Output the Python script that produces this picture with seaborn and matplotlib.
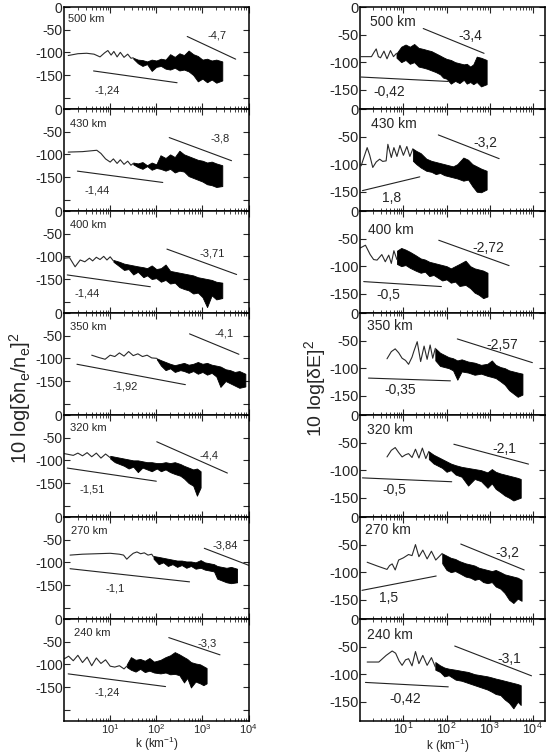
import numpy as np
import matplotlib
matplotlib.use("Agg")
import matplotlib.pyplot as plt
from matplotlib.ticker import LogLocator, FixedLocator, NullFormatter
import seaborn as sns
import pandas as pd

sns.set_style("ticks")
plt.rcParams['font.family'] = ['Liberation Sans', 'DejaVu Sans']
plt.rcParams['mathtext.default'] = 'regular'

ALTITUDES = ['500 km', '430 km', '400 km', '350 km', '320 km', '270 km', '240 km']

# ---------------- left column: 10 log[dn/n]^2 (x = log10 k) ----------------
NE500_LINE_LK = [0.09, 0.3, 0.49, 0.65, 0.78, 0.88, 0.95, 1.02, 1.08, 1.15, 1.22, 1.3, 1.38, 1.45, 1.5]
NE500_LINE_Y = [-107, -103, -102, -104, -110, -101, -96, -106, -98, -110, -100, -111, -104, -113, -112]
NE500_BAND_LK = [1.5, 1.6, 1.7, 1.8, 1.9, 2.0, 2.1, 2.2, 2.3, 2.4, 2.5, 2.6, 2.7, 2.8, 2.9, 3.0, 3.1, 3.2, 3.3, 3.43]
NE500_BAND_HI = [-112, -116, -117, -120, -116, -118, -114, -116, -104, -110, -102, -106, -96, -104, -108, -116, -114, -118, -116, -120]
NE500_BAND_LO = [-114, -124, -130, -126, -141, -132, -130, -136, -138, -134, -140, -138, -142, -150, -164, -158, -166, -160, -167, -162]

NE430_LINE_LK = [0.09, 0.4, 0.71, 0.8, 0.9, 1.0, 1.07, 1.15, 1.22, 1.3, 1.38, 1.45, 1.5]
NE430_LINE_Y = [-95, -94, -91, -98, -110, -117, -110, -120, -112, -122, -115, -124, -120]
NE430_BAND_LK = [1.5, 1.6, 1.7, 1.8, 1.9, 2.0, 2.09, 2.2, 2.3, 2.4, 2.5, 2.6, 2.7, 2.8, 2.9, 3.0, 3.1, 3.2, 3.3, 3.43]
NE430_BAND_HI = [-118, -120, -117, -124, -118, -122, -102, -108, -100, -106, -92, -100, -104, -108, -112, -114, -118, -116, -120, -124]
NE430_BAND_LO = [-122, -128, -132, -126, -134, -130, -132, -136, -132, -140, -136, -138, -148, -152, -156, -160, -166, -168, -172, -170]

NE400_LINE_LK = [0.0, 0.12, 0.24, 0.35, 0.45, 0.55, 0.62, 0.7, 0.78, 0.86, 0.93, 1.0, 1.07]
NE400_LINE_Y = [-104, -103, -123, -108, -112, -104, -110, -102, -107, -100, -108, -101, -110]
NE400_BAND_LK = [1.07, 1.2, 1.3, 1.4, 1.5, 1.6, 1.72, 1.8, 1.9, 2.0, 2.1, 2.2, 2.3, 2.4, 2.5, 2.6, 2.7, 2.8, 2.9, 3.0, 3.1, 3.2, 3.3, 3.43]
NE400_BAND_HI = [-108, -112, -116, -118, -120, -122, -124, -126, -120, -128, -126, -118, -132, -134, -136, -138, -140, -142, -146, -148, -150, -152, -156, -158]
NE400_BAND_LO = [-112, -122, -130, -128, -140, -134, -146, -142, -150, -148, -156, -152, -160, -158, -168, -172, -175, -182, -180, -190, -212, -186, -195, -192]

NE350_LINE_LK = [0.6, 0.75, 0.89, 1.0, 1.1, 1.2, 1.3, 1.4, 1.5, 1.6, 1.7, 1.8, 1.9, 2.01]
NE350_LINE_Y = [-93, -98, -102, -93, -96, -88, -95, -85, -94, -90, -96, -93, -99, -100]
NE350_BAND_LK = [2.01, 2.1, 2.2, 2.3, 2.4, 2.52, 2.6, 2.7, 2.8, 2.9, 3.0, 3.1, 3.2, 3.3, 3.39, 3.5, 3.6, 3.7, 3.8, 3.93]
NE350_BAND_HI = [-100, -104, -108, -112, -115, -112, -110, -114, -112, -108, -112, -110, -114, -116, -118, -124, -126, -130, -128, -134]
NE350_BAND_LO = [-102, -116, -126, -122, -130, -126, -128, -132, -128, -134, -130, -136, -132, -140, -163, -150, -155, -160, -165, -162]

NE320_LINE_LK = [0.0, 0.1, 0.2, 0.3, 0.4, 0.5, 0.6, 0.7, 0.8, 0.9, 1.0]
NE320_LINE_Y = [-85, -87, -89, -84, -90, -83, -92, -84, -95, -86, -94]
NE320_BAND_LK = [1.0, 1.1, 1.2, 1.3, 1.4, 1.5, 1.6, 1.7, 1.8, 1.9, 2.01, 2.1, 2.2, 2.3, 2.4, 2.52, 2.6, 2.7, 2.8, 2.88, 2.96]
NE320_BAND_HI = [-90, -92, -94, -96, -98, -100, -100, -102, -104, -104, -106, -106, -104, -106, -104, -108, -112, -116, -120, -118, -124]
NE320_BAND_LO = [-96, -104, -108, -112, -118, -114, -126, -116, -120, -124, -118, -124, -120, -126, -130, -134, -140, -150, -156, -178, -160]

NE270_LINE_LK = [0.13, 0.4, 0.7, 1.0, 1.2, 1.29, 1.36, 1.43, 1.5, 1.58, 1.66, 1.74, 1.82, 1.9, 1.94]
NE270_LINE_Y = [-84, -82, -81, -80, -82, -84, -93, -86, -80, -77, -81, -79, -84, -82, -88]
NE270_BAND_LK = [1.94, 2.05, 2.15, 2.25, 2.35, 2.45, 2.55, 2.65, 2.75, 2.85, 2.96, 3.05, 3.15, 3.25, 3.32, 3.42, 3.52, 3.62, 3.75]
NE270_BAND_HI = [-86, -88, -90, -92, -94, -96, -96, -98, -98, -100, -95, -100, -102, -104, -108, -110, -112, -110, -114]
NE270_BAND_LO = [-92, -104, -100, -108, -104, -110, -106, -112, -108, -114, -112, -116, -118, -120, -136, -140, -144, -146, -144]

NE240_LINE_LK = [0.0, 0.1, 0.2, 0.3, 0.4, 0.5, 0.6, 0.7, 0.8, 0.9, 1.0, 1.1, 1.2, 1.3, 1.36]
NE240_LINE_Y = [-88, -82, -92, -80, -96, -84, -103, -86, -98, -90, -104, -106, -103, -110, -104]
NE240_BAND_LK = [1.36, 1.45, 1.55, 1.65, 1.75, 1.85, 1.95, 2.09, 2.2, 2.3, 2.4, 2.5, 2.6, 2.67, 2.75, 2.85, 2.95, 3.02, 3.09]
NE240_BAND_HI = [-100, -84, -90, -88, -92, -86, -94, -90, -84, -80, -73, -78, -84, -88, -95, -98, -100, -104, -108]
NE240_BAND_LO = [-106, -112, -116, -110, -117, -114, -118, -120, -118, -122, -121, -124, -140, -130, -151, -138, -142, -146, -142]

NE_LOW_SLOPE = ['-1,24', '-1,44', '-1,44', '-1,92', '-1,51', '-1,1', '-1,24']
NE_HIGH_SLOPE = ['-4,7', '-3,8', '-3,71', '-4,1', '-4,4', '-3,84', '-3,3']
NE_LOW_SEG = [(0.64, -141, 2.45, -167), (0.29, -137, 2.14, -162), (0.07, -141, 1.87, -167),
              (0.28, -113, 2.63, -158), (0.07, -117, 2.0, -146), (0.13, -114, 2.72, -143),
              (0.09, -121, 2.2, -149)]
NE_HIGH_SEG = [(2.67, -65, 3.72, -115), (2.28, -63, 3.63, -114), (2.23, -84, 3.74, -140),
               (2.72, -46, 3.79, -91), (2.01, -59, 3.54, -128), (3.04, -69, 4.04, -108),
               (2.27, -41, 3.38, -79)]
NE_LOW_LABEL = [(0.93, -184), (0.71, -179), (0.49, -182), (1.33, -163), (0.6, -165), (1.1, -158), (0.93, -162)]
NE_HIGH_LABEL = [(3.32, -63), (3.39, -65), (3.21, -93), (3.46, -45), (3.14, -89), (3.5, -62), (3.1, -54)]
NE_ALT_POS = [(0.09, -26), (0.13, -33), (0.13, -30), (0.13, -30), (0.13, -28), (0.15, -30), (0.22, -30)]

# ---------------- right column: 10 log[dE]^2 ----------------
E500_LINE_LK = [0.02, 0.26, 0.32, 0.37, 0.42, 0.47, 0.55, 0.62, 0.7, 0.77, 0.84]
E500_LINE_Y = [-90, -90, -82, -76, -90, -92, -80, -94, -79, -90, -84]
E500_BAND_LK = [0.84, 0.95, 1.05, 1.15, 1.25, 1.35, 1.46, 1.55, 1.65, 1.75, 1.85, 1.92, 2.0, 2.1, 2.2, 2.3, 2.4, 2.47, 2.55, 2.62, 2.7, 2.8, 2.93]
E500_BAND_HI = [-84, -72, -68, -72, -67, -74, -76, -78, -80, -84, -88, -91, -94, -96, -100, -102, -104, -103, -108, -104, -90, -92, -96]
E500_BAND_LO = [-92, -100, -96, -103, -100, -108, -110, -112, -115, -118, -122, -128, -130, -139, -134, -138, -132, -139, -136, -140, -136, -144, -140]

E430_LINE_LK = [0.02, 0.16, 0.22, 0.29, 0.37, 0.45, 0.52, 0.6, 0.64, 0.72, 0.78, 0.85, 0.92, 1.0, 1.08, 1.15, 1.22]
E430_LINE_Y = [-103, -70, -84, -106, -96, -91, -95, -94, -64, -88, -70, -86, -66, -84, -68, -86, -72]
E430_BAND_LK = [1.22, 1.3, 1.4, 1.53, 1.65, 1.75, 1.85, 1.95, 2.05, 2.15, 2.25, 2.39, 2.5, 2.6, 2.7, 2.8, 2.93]
E430_BAND_HI = [-72, -76, -80, -90, -94, -96, -98, -100, -102, -104, -100, -88, -92, -100, -104, -108, -112]
E430_BAND_LO = [-94, -100, -106, -112, -114, -118, -116, -120, -122, -124, -126, -130, -128, -140, -150, -151, -146]

E400_LINE_LK = [0.0, 0.12, 0.23, 0.31, 0.39, 0.5, 0.58, 0.66, 0.72, 0.78, 0.85]
E400_LINE_Y = [-67, -62, -79, -88, -89, -79, -92, -80, -95, -72, -88]
E400_BAND_LK = [0.85, 0.95, 1.05, 1.15, 1.28, 1.4, 1.5, 1.6, 1.7, 1.8, 1.9, 2.0, 2.1, 2.2, 2.3, 2.44, 2.55, 2.65, 2.75, 2.85, 2.95]
E400_BAND_HI = [-72, -67, -70, -74, -80, -86, -88, -92, -94, -96, -98, -100, -104, -100, -96, -90, -100, -104, -106, -108, -112]
E400_BAND_LO = [-96, -100, -98, -103, -108, -112, -110, -118, -116, -121, -126, -124, -130, -128, -136, -134, -140, -148, -152, -158, -155]

E350_LINE_LK = [0.62, 0.72, 0.81, 0.89, 0.97, 1.05, 1.12, 1.2, 1.24, 1.32, 1.4, 1.48, 1.55, 1.62, 1.68, 1.74]
E350_LINE_Y = [-83, -70, -65, -72, -82, -86, -93, -80, -70, -52, -88, -60, -84, -58, -82, -64]
E350_BAND_LK = [1.74, 1.85, 1.95, 2.05, 2.15, 2.25, 2.35, 2.5, 2.65, 2.8, 2.95, 3.05, 3.14, 3.25, 3.35, 3.45, 3.55, 3.65, 3.76]
E350_BAND_HI = [-64, -72, -76, -80, -82, -86, -84, -88, -90, -94, -92, -86, -94, -98, -100, -104, -106, -108, -110]
E350_BAND_LO = [-86, -96, -98, -100, -104, -121, -106, -108, -112, -110, -114, -116, -118, -124, -130, -140, -146, -152, -148]

E320_LINE_LK = [0.62, 0.72, 0.81, 0.89, 0.97, 1.05, 1.12, 1.2, 1.28, 1.36, 1.44, 1.52, 1.59]
E320_LINE_Y = [-76, -64, -59, -68, -76, -72, -70, -77, -62, -78, -60, -79, -66]
E320_BAND_LK = [1.59, 1.7, 1.8, 1.9, 2.0, 2.1, 2.21, 2.35, 2.5, 2.65, 2.8, 2.95, 3.05, 3.14, 3.25, 3.35, 3.45, 3.55, 3.65, 3.72]
E320_BAND_HI = [-66, -72, -76, -80, -84, -88, -91, -94, -96, -98, -100, -104, -98, -103, -106, -108, -110, -112, -114, -116]
E320_BAND_LO = [-80, -88, -92, -96, -103, -100, -108, -112, -128, -116, -120, -132, -124, -134, -140, -146, -150, -155, -152, -150]

E270_LINE_LK = [0.16, 0.4, 0.62, 0.68, 0.74, 0.81, 0.89, 1.0, 1.12, 1.2, 1.28, 1.36, 1.45, 1.55, 1.65, 1.75, 1.9]
E270_LINE_Y = [-82, -89, -95, -88, -85, -96, -78, -74, -68, -70, -50, -72, -60, -76, -62, -78, -66]
E270_BAND_LK = [1.9, 2.0, 2.1, 2.2, 2.3, 2.44, 2.55, 2.65, 2.75, 2.85, 2.95, 3.05, 3.14, 3.25, 3.35, 3.45, 3.55, 3.65, 3.74]
E270_BAND_HI = [-66, -70, -74, -76, -80, -84, -86, -88, -92, -94, -96, -98, -96, -100, -104, -106, -108, -110, -114]
E270_BAND_LO = [-84, -96, -100, -98, -102, -108, -110, -114, -112, -118, -120, -118, -126, -130, -138, -150, -156, -148, -152]

E240_LINE_LK = [0.16, 0.43, 0.6, 0.74, 0.82, 0.9, 0.97, 1.05, 1.12, 1.2, 1.28, 1.36, 1.45, 1.55, 1.65, 1.74]
E240_LINE_Y = [-78, -78, -66, -58, -62, -76, -84, -74, -72, -85, -59, -81, -66, -84, -70, -87]
E240_BAND_LK = [1.74, 1.85, 1.95, 2.05, 2.21, 2.35, 2.5, 2.65, 2.8, 2.95, 3.05, 3.14, 3.25, 3.35, 3.45, 3.55, 3.65, 3.72]
E240_BAND_HI = [-78, -84, -88, -90, -92, -94, -96, -100, -102, -104, -106, -108, -110, -112, -114, -116, -118, -120]
E240_BAND_LO = [-92, -96, -104, -102, -110, -112, -116, -120, -124, -128, -132, -136, -138, -146, -152, -162, -150, -156]

E_LOW_SLOPE = ['-0,42', '1,8', '-0,5', '-0,35', '-0,5', '1,5', '-0,42']
E_HIGH_SLOPE = ['-3,4', '-3,2', '-2,72', '-2,57', '-2,1', '-3,2', '-3,1']
E_LOW_SEG = [(0.02, -127, 2.04, -135), (0.05, -148, 1.38, -123), (0.08, -128, 1.88, -137),
             (0.19, -118, 2.09, -123), (0.05, -114, 2.12, -121), (0.04, -133, 1.76, -107),
             (0.12, -115, 2.04, -123)]
E_HIGH_SEG = [(1.46, -39, 2.87, -84), (1.81, -47, 3.22, -90), (1.82, -53, 3.45, -99),
              (2.25, -47, 3.99, -90), (2.17, -53, 3.9, -89), (2.33, -49, 3.8, -96),
              (2.19, -49, 3.97, -103)]
E_LOW_LABEL = [(0.68, -155), (0.72, -161), (0.66, -152), (0.93, -139), (0.78, -136), (0.66, -147), (1.05, -145)]
E_HIGH_LABEL = [(2.54, -52), (2.89, -62), (2.98, -67), (3.29, -58), (3.33, -61), (3.41, -65), (3.45, -72)]
E_ALT_POS = [(0.22, -27), (0.26, -28), (0.19, -35), (0.16, -24), (0.16, -27), (0.12, -24), (0.16, -29)]

NE_LINES = [(NE500_LINE_LK, NE500_LINE_Y), (NE430_LINE_LK, NE430_LINE_Y), (NE400_LINE_LK, NE400_LINE_Y),
            (NE350_LINE_LK, NE350_LINE_Y), (NE320_LINE_LK, NE320_LINE_Y), (NE270_LINE_LK, NE270_LINE_Y),
            (NE240_LINE_LK, NE240_LINE_Y)]
NE_BANDS = [(NE500_BAND_LK, NE500_BAND_HI, NE500_BAND_LO), (NE430_BAND_LK, NE430_BAND_HI, NE430_BAND_LO),
            (NE400_BAND_LK, NE400_BAND_HI, NE400_BAND_LO), (NE350_BAND_LK, NE350_BAND_HI, NE350_BAND_LO),
            (NE320_BAND_LK, NE320_BAND_HI, NE320_BAND_LO), (NE270_BAND_LK, NE270_BAND_HI, NE270_BAND_LO),
            (NE240_BAND_LK, NE240_BAND_HI, NE240_BAND_LO)]
E_LINES = [(E500_LINE_LK, E500_LINE_Y), (E430_LINE_LK, E430_LINE_Y), (E400_LINE_LK, E400_LINE_Y),
           (E350_LINE_LK, E350_LINE_Y), (E320_LINE_LK, E320_LINE_Y), (E270_LINE_LK, E270_LINE_Y),
           (E240_LINE_LK, E240_LINE_Y)]
E_BANDS = [(E500_BAND_LK, E500_BAND_HI, E500_BAND_LO), (E430_BAND_LK, E430_BAND_HI, E430_BAND_LO),
           (E400_BAND_LK, E400_BAND_HI, E400_BAND_LO), (E350_BAND_LK, E350_BAND_HI, E350_BAND_LO),
           (E320_BAND_LK, E320_BAND_HI, E320_BAND_LO), (E270_BAND_LK, E270_BAND_HI, E270_BAND_LO),
           (E240_BAND_LK, E240_BAND_HI, E240_BAND_LO)]

fig, axes = plt.subplots(7, 2, figsize=(5.52, 7.55), dpi=100)
fig.subplots_adjust(left=0.116, right=0.987, top=0.9907, bottom=0.045, hspace=0, wspace=0.605)


def draw_panel(ax, line, band, lowseg, highseg, lowlab, highlab, lowtxt, hightxt, altpos, alt,
               xmax, ymin, yticks, fs_txt, fs_tick):
    lk, y = line
    df = pd.DataFrame({'k': 10 ** np.asarray(lk, float), 'v': y})
    sns.lineplot(data=df, x='k', y='v', ax=ax, color='#2a2a2a', lw=0.8, estimator=None, sort=False)
    bk, hi, lo = band
    kk = 10 ** np.asarray(bk, float)
    ax.fill_between(kk, lo, hi, color='black', lw=0.6, edgecolor='black')
    for seg in (lowseg, highseg):
        sdf = pd.DataFrame({'k': [10 ** seg[0], 10 ** seg[2]], 'v': [seg[1], seg[3]]})
        sns.lineplot(data=sdf, x='k', y='v', ax=ax, color='#222222', lw=0.8, estimator=None, sort=False)
    ax.text(10 ** lowlab[0], lowlab[1], lowtxt, ha='center', va='center', fontsize=fs_txt)
    ax.text(10 ** highlab[0], highlab[1], hightxt, ha='center', va='center', fontsize=fs_txt)
    ax.text(10 ** altpos[0], altpos[1], alt, ha='left', va='center', fontsize=fs_txt)
    ax.set_xscale('log')
    ax.set_xlim(1, xmax)
    ax.set_ylim(ymin, 0)
    ax.set_xlabel('')
    ax.set_ylabel('')
    ax.xaxis.set_major_locator(FixedLocator([10, 100, 1000, 10000]))
    ax.xaxis.set_minor_locator(LogLocator(base=10, subs=np.arange(2, 10), numticks=20))
    ax.xaxis.set_minor_formatter(NullFormatter())
    ax.set_yticks(yticks)
    ax.set_yticklabels([str(t) if t > -200 else '' for t in yticks])
    ax.tick_params(which='both', direction='in', top=True, right=True, pad=1)
    ax.tick_params(axis='y', labelsize=fs_tick)
    ax.tick_params(which='major', length=4, width=0.8)
    ax.tick_params(which='minor', length=2, width=0.6)
    for s in ax.spines.values():
        s.set_linewidth(1.1)
        s.set_color('black')


for i in range(7):
    axL = axes[i, 0]
    draw_panel(axL, NE_LINES[i], NE_BANDS[i], NE_LOW_SEG[i], NE_HIGH_SEG[i], NE_LOW_LABEL[i],
               NE_HIGH_LABEL[i], NE_LOW_SLOPE[i], NE_HIGH_SLOPE[i], NE_ALT_POS[i], ALTITUDES[i],
               1e4, -225, [-200, -150, -100, -50, 0], 8, 10)
    axR = axes[i, 1]
    draw_panel(axR, E_LINES[i], E_BANDS[i], E_LOW_SEG[i], E_HIGH_SEG[i], E_LOW_LABEL[i],
               E_HIGH_LABEL[i], E_LOW_SLOPE[i], E_HIGH_SLOPE[i], E_ALT_POS[i], ALTITUDES[i],
               1.9e4, -185, [-150, -100, -50, 0], 10, 10.5)
    if i < 6:
        axL.tick_params(labelbottom=False)
        axR.tick_params(labelbottom=False)
    else:
        axL.tick_params(axis='x', labelsize=8, pad=0.5)
        axR.tick_params(axis='x', labelsize=9, pad=0.5)

fig.text(0.036, 0.472, '10 log[δn$_e$/n$_e$]$^2$', rotation=90, ha='center', va='center', fontsize=14.5)
fig.text(0.571, 0.485, '10 log[δE]$^2$', rotation=90, ha='center', va='center', fontsize=14)
fig.text(0.284, 0.002, 'k (km$^{-1}$)', ha='center', va='bottom', fontsize=8.5)
fig.text(0.812, 0.0, 'k (km$^{-1}$)', ha='center', va='bottom', fontsize=8.5)

fig.savefig('out.png', dpi=100)
